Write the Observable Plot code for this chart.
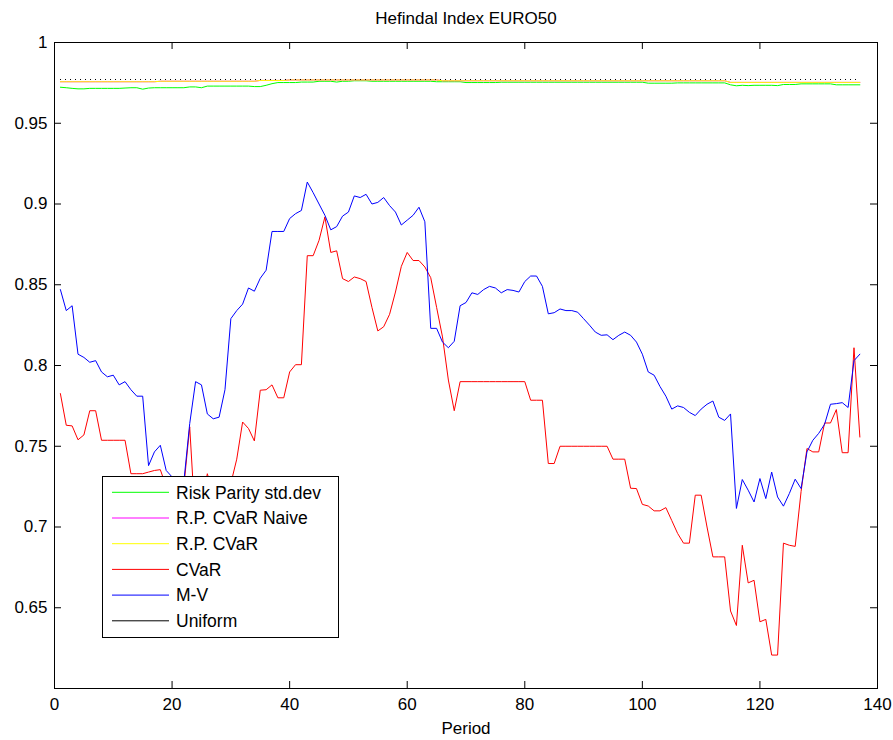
<!DOCTYPE html>
<html>
<head>
<meta charset="utf-8">
<script src="https://cdn.jsdelivr.net/npm/d3@7"></script>
<script src="https://cdn.jsdelivr.net/npm/@observablehq/plot@0.6"></script>
<style>
  html, body { margin: 0; padding: 0; background: #fff; }
  #wrap { position: relative; width: 893px; height: 740px; font-family: "Liberation Sans", Arial, sans-serif; }
  #legend { position: absolute; left: 102px; top: 476px; }
</style>
</head>
<body>
<div id="wrap"><div id="chart"></div><div id="legend"></div></div>
<script>
// ---- data ----
const title = "Hefindal Index EURO50";
const xLabel = "Period";
const xTicks = [0, 20, 40, 60, 80, 100, 120, 140];
const yTicks = [0.65, 0.7, 0.75, 0.8, 0.85, 0.9, 0.95, 1];
const yTickLabels = ["0.65", "0.7", "0.75", "0.8", "0.85", "0.9", "0.95", "1"];

const seriesNames = ["Risk Parity std.dev", "R.P. CVaR Naive", "R.P. CVaR", "CVaR", "M-V", "Uniform"];
const seriesColors = ["#00ff00", "#ff00ff", "#ffff00", "#ff0000", "#0000ff", "#000000"];

const riskParityStd = [
  0.9723,0.9720,0.9716,0.9713,0.9713,0.9716,0.9716,0.9716,0.9716,0.9716,
  0.9716,0.9718,0.9720,0.9720,0.9711,0.9718,0.9720,0.9720,0.9720,0.9720,
  0.9720,0.9720,0.9725,0.9725,0.9720,0.9730,0.9730,0.9730,0.9730,0.9730,
  0.9730,0.9730,0.9730,0.9727,0.9727,0.9735,0.9745,0.9752,0.9752,0.9752,
  0.9752,0.9755,0.9755,0.9755,0.9760,0.9760,0.9760,0.9755,0.9760,0.9760,
  0.9763,0.9763,0.9763,0.9760,0.9760,0.9760,0.9760,0.9760,0.9760,0.9760,
  0.9760,0.9760,0.9760,0.9760,0.9757,0.9757,0.9757,0.9757,0.9757,0.9752,
  0.9752,0.9752,0.9752,0.9752,0.9752,0.9754,0.9754,0.9754,0.9754,0.9754,
  0.9754,0.9754,0.9754,0.9754,0.9754,0.9754,0.9754,0.9754,0.9754,0.9754,
  0.9754,0.9754,0.9754,0.9754,0.9754,0.9754,0.9754,0.9754,0.9754,0.9754,
  0.9748,0.9748,0.9748,0.9748,0.9748,0.9750,0.9750,0.9750,0.9750,0.9750,
  0.9750,0.9750,0.9750,0.9750,0.9738,0.9732,0.9735,0.9733,0.9735,0.9735,
  0.9735,0.9735,0.9733,0.9740,0.9740,0.9740,0.9744,0.9744,0.9744,0.9744,
  0.9744,0.9744,0.9738,0.9738,0.9738,0.9738,0.9738
];

const rpCvarNaive = [
  0.9757,0.9757,0.9757,0.9757,0.9757,0.9757,0.9757,0.9757,0.9757,0.9757,
  0.9757,0.9757,0.9757,0.9757,0.9757,0.9757,0.9757,0.9760,0.9760,0.9760,
  0.9760,0.9760,0.9760,0.9760,0.9760,0.9760,0.9760,0.9760,0.9760,0.9760,
  0.9760,0.9760,0.9760,0.9760,0.9765,0.9765,0.9765,0.9765,0.9765,0.9768,
  0.9768,0.9768,0.9768,0.9768,0.9768,0.9768,0.9768,0.9768,0.9768,0.9768,
  0.9768,0.9768,0.9768,0.9768,0.9768,0.9768,0.9768,0.9768,0.9768,0.9768,
  0.9768,0.9768,0.9768,0.9768,0.9768,0.9763,0.9763,0.9763,0.9763,0.9763,
  0.9763,0.9763,0.9763,0.9763,0.9763,0.9763,0.9763,0.9763,0.9763,0.9763,
  0.9763,0.9763,0.9763,0.9763,0.9763,0.9763,0.9763,0.9763,0.9763,0.9763,
  0.9763,0.9763,0.9763,0.9763,0.9763,0.9763,0.9763,0.9763,0.9763,0.9763,
  0.9763,0.9763,0.9763,0.9763,0.9763,0.9763,0.9763,0.9763,0.9763,0.9763,
  0.9763,0.9763,0.9763,0.9763,0.9753,0.9753,0.9753,0.9753,0.9753,0.9753,
  0.9753,0.9753,0.9753,0.9753,0.9753,0.9753,0.9753,0.9753,0.9753,0.9753,
  0.9753,0.9753,0.9753,0.9753,0.9753,0.9753,0.9753
];

const rpCvar = [
  0.9757,0.9757,0.9757,0.9757,0.9757,0.9757,0.9757,0.9757,0.9757,0.9757,
  0.9757,0.9757,0.9757,0.9757,0.9757,0.9757,0.9757,0.9760,0.9760,0.9760,
  0.9760,0.9760,0.9760,0.9760,0.9760,0.9760,0.9760,0.9760,0.9760,0.9760,
  0.9760,0.9760,0.9760,0.9760,0.9765,0.9765,0.9765,0.9765,0.9765,0.9768,
  0.9768,0.9768,0.9768,0.9768,0.9768,0.9768,0.9768,0.9768,0.9768,0.9768,
  0.9768,0.9768,0.9768,0.9768,0.9768,0.9768,0.9768,0.9768,0.9768,0.9768,
  0.9768,0.9768,0.9768,0.9768,0.9768,0.9763,0.9763,0.9763,0.9763,0.9763,
  0.9763,0.9763,0.9763,0.9763,0.9763,0.9763,0.9763,0.9763,0.9763,0.9763,
  0.9763,0.9763,0.9763,0.9763,0.9763,0.9763,0.9763,0.9763,0.9763,0.9763,
  0.9763,0.9763,0.9763,0.9763,0.9763,0.9763,0.9763,0.9763,0.9763,0.9763,
  0.9763,0.9763,0.9763,0.9763,0.9763,0.9763,0.9763,0.9763,0.9763,0.9763,
  0.9763,0.9763,0.9763,0.9763,0.9753,0.9753,0.9753,0.9753,0.9753,0.9753,
  0.9753,0.9753,0.9753,0.9753,0.9753,0.9753,0.9753,0.9753,0.9753,0.9753,
  0.9753,0.9753,0.9753,0.9753,0.9753,0.9753,0.9753
];

const cvar = [
  0.7826,0.763,0.7626,0.754,0.757,0.772,0.772,0.7537,0.7537,0.7537,
  0.7537,0.7537,0.733,0.733,0.733,0.734,0.735,0.7355,0.725,0.722,
  0.722,0.725,0.762,0.700,0.715,0.733,0.720,0.715,0.720,0.727,
  0.742,0.765,0.761,0.7533,0.7847,0.785,0.788,0.780,0.780,0.796,
  0.8005,0.8005,0.868,0.868,0.8775,0.892,0.870,0.871,0.8538,0.852,
  0.8548,0.8538,0.852,0.836,0.8214,0.824,0.8317,0.8455,0.8614,0.870,
  0.865,0.865,0.861,0.8544,0.836,0.8177,0.791,0.772,0.790,0.790,
  0.790,0.790,0.790,0.790,0.790,0.790,0.790,0.790,0.790,0.790,
  0.7785,0.7785,0.7785,0.7393,0.7393,0.750,0.750,0.750,0.750,0.750,
  0.750,0.750,0.750,0.750,0.742,0.742,0.742,0.724,0.7238,0.714,
  0.713,0.710,0.710,0.712,0.704,0.696,0.690,0.690,0.7197,0.7197,
  0.700,0.6815,0.6815,0.6815,0.648,0.639,0.6887,0.6654,0.667,0.6413,
  0.6428,0.6207,0.6207,0.690,0.6887,0.688,0.722,0.7486,0.7465,0.7465,
  0.7644,0.7644,0.7727,0.746,0.746,0.811,0.7557
];

const meanVariance = [
  0.847,0.834,0.837,0.807,0.805,0.802,0.803,0.796,0.793,0.794,
  0.788,0.790,0.785,0.781,0.781,0.738,0.7465,0.7506,0.735,0.731,
  0.722,0.728,0.764,0.790,0.788,0.770,0.767,0.768,0.785,0.829,
  0.834,0.838,0.848,0.846,0.854,0.859,0.883,0.883,0.883,0.891,
  0.894,0.896,0.9136,0.907,0.900,0.893,0.884,0.886,0.8925,0.895,
  0.905,0.904,0.906,0.900,0.901,0.904,0.899,0.895,0.887,0.890,
  0.893,0.898,0.889,0.823,0.823,0.8145,0.811,0.815,0.837,0.839,
  0.845,0.844,0.847,0.849,0.848,0.845,0.847,0.8465,0.8455,0.852,
  0.8554,0.8554,0.849,0.832,0.8327,0.835,0.834,0.834,0.833,0.829,
  0.825,0.8207,0.8187,0.819,0.816,0.8187,0.8207,0.8187,0.8145,0.807,
  0.796,0.794,0.787,0.781,0.773,0.775,0.774,0.771,0.769,0.773,
  0.776,0.778,0.768,0.766,0.770,0.7115,0.7294,0.7228,0.7155,0.730,
  0.7176,0.734,0.7186,0.7129,0.7207,0.7296,0.7238,0.7465,0.7537,0.758,
  0.7636,0.776,0.7764,0.777,0.774,0.803,0.807
];

const uniformLevel = 0.9773;

// ---- chart ----
const periods = d3.range(1, meanVariance.length + 1);
const seriesValues = [riskParityStd, rpCvarNaive, rpCvar, cvar, meanVariance];
const W = 893, H = 740;
const mL = 54, mR = 16, mT = 42, mB = 52;
const innerW = W - mL - mR, innerH = H - mT - mB;
const tickLen = 7;
const font = "Liberation Sans, Arial, sans-serif";

const lineMarks = seriesValues.map((vals, k) =>
  Plot.line(vals, {x: (d, i) => periods[i], y: d => d, stroke: seriesColors[k], strokeWidth: 1})
);

const chart = Plot.plot({
  width: W, height: H,
  marginLeft: mL, marginRight: mR, marginTop: mT, marginBottom: mB,
  x: {domain: [0, 140]},
  y: {domain: [0.6, 1]},
  style: {fontFamily: font, fontSize: "17px", color: "#000", background: "#fff", overflow: "visible"},
  marks: [
    ...lineMarks,
    Plot.ruleY([uniformLevel], {x1: periods[0], x2: periods[periods.length - 1], stroke: seriesColors[5], strokeWidth: 1, strokeDasharray: "1,4", shapeRendering: "crispEdges"}),
    // inward ticks on all four sides
    Plot.ruleX(xTicks, {x: d => d, insetTop: innerH - tickLen, stroke: "#000"}),
    Plot.ruleX(xTicks, {x: d => d, insetBottom: innerH - tickLen, stroke: "#000"}),
    Plot.ruleY(yTicks, {y: d => d, insetRight: innerW - tickLen, stroke: "#000"}),
    Plot.ruleY(yTicks, {y: d => d, insetLeft: innerW - tickLen, stroke: "#000"}),
    Plot.frame({stroke: "#000", strokeWidth: 1}),
    Plot.axisX(xTicks, {tickSize: 0, tickPadding: 9, label: null, fontSize: 17, tickFormat: d => String(d)}),
    Plot.axisY(yTicks, {tickSize: 0, tickPadding: 7, label: null, fontSize: 17, tickFormat: d => yTickLabels[yTicks.indexOf(d)]}),
    Plot.text([xLabel], {frameAnchor: "bottom", dy: 40, text: d => d, fontSize: 17, lineAnchor: "middle"}),
    Plot.text([title], {frameAnchor: "top", dy: -24, text: d => d, fontSize: 17, lineAnchor: "middle"})
  ]
});
document.getElementById("chart").appendChild(chart);

// ---- legend (MATLAB-style box) ----
const lgW = 236, lgH = 161, rowH = 25.7, row0 = 16.3;
const lg = d3.select("#legend").append("svg")
  .attr("width", lgW + 1).attr("height", lgH + 1)
  .style("font-family", font).style("font-size", "17.5px");
lg.append("rect").attr("x", 0.5).attr("y", 0.5).attr("width", lgW).attr("height", lgH)
  .attr("fill", "#fff").attr("stroke", "#000");
seriesNames.forEach((name, i) => {
  const y = row0 + i * rowH;
  lg.append("line").attr("x1", 10).attr("x2", 67).attr("y1", y).attr("y2", y)
    .attr("stroke", seriesColors[i]).attr("stroke-width", 1);
  lg.append("text").attr("x", 74).attr("y", y + 6.3).attr("fill", "#000").text(name);
});
</script>
</body>
</html>
